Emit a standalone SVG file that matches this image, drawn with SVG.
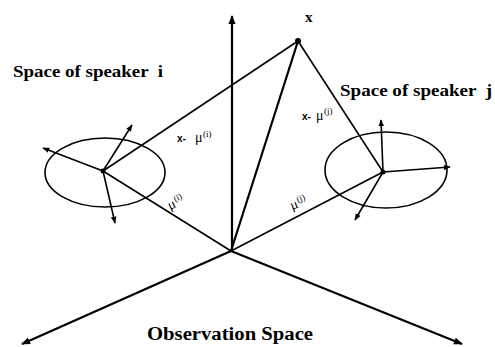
<svg xmlns="http://www.w3.org/2000/svg" width="495" height="347" viewBox="0 0 495 347">
<defs>
<marker id="ah" viewBox="0 0 10 10" refX="9" refY="5" markerWidth="7" markerHeight="7" markerUnits="userSpaceOnUse" orient="auto">
<path d="M0,1 L10,5 L0,9 Z" fill="#000"/>
</marker>
<marker id="ahb" viewBox="0 0 10 10" refX="9" refY="5" markerWidth="9" markerHeight="9" markerUnits="userSpaceOnUse" orient="auto">
<path d="M0,1 L10,5 L0,9 Z" fill="#000"/>
</marker>
</defs>
<style>
.ax{stroke:#000;stroke-width:2.2;fill:none}
.ln{stroke:#000;stroke-width:1.6;fill:none}
.el{stroke:#000;stroke-width:1.6;fill:none}
.t{font-family:'Liberation Serif','DejaVu Serif',serif;font-weight:bold;fill:#000}
.m{font-family:'Liberation Serif','DejaVu Serif',serif;font-weight:normal;fill:#000}
.s{font-family:'Liberation Sans','DejaVu Sans',sans-serif;font-weight:bold;fill:#000}
</style>
<rect width="495" height="347" fill="#fff"/>
<g id="connectors">
<line class="ax" x1="232" y1="251" x2="232" y2="16" marker-end="url(#ahb)"/>
<line class="ax" x1="231" y1="251" x2="22" y2="344" marker-end="url(#ahb)"/>
<line class="ax" x1="231" y1="251" x2="462" y2="344" marker-end="url(#ahb)"/>
<line class="ax" x1="231" y1="251" x2="298" y2="41"/>
<line class="ln" x1="231" y1="251" x2="103" y2="171"/>
<line class="ln" x1="231" y1="251" x2="383" y2="172"/>
<line class="ln" x1="103" y1="171" x2="298" y2="41"/>
<line class="ln" x1="383" y1="172" x2="298" y2="41"/>
<line class="ln" x1="103" y1="171" x2="43" y2="148" marker-end="url(#ah)"/>
<line class="ln" x1="103" y1="171" x2="132" y2="125" marker-end="url(#ah)"/>
<line class="ln" x1="103" y1="171" x2="115" y2="223" marker-end="url(#ah)"/>
<line class="ln" x1="383" y1="172" x2="381" y2="120" marker-end="url(#ah)"/>
<line class="ln" x1="383" y1="172" x2="450" y2="167" marker-end="url(#ah)"/>
<line class="ln" x1="383" y1="172" x2="355" y2="220" marker-end="url(#ah)"/>
</g>
<g id="space-i">
<ellipse class="el" cx="105" cy="172.5" rx="60" ry="34.5"/>
<circle cx="103" cy="171" r="2.5" fill="#000"/>
<text class="t" x="13" y="77" font-size="17" textLength="150" lengthAdjust="spacingAndGlyphs" xml:space="preserve">Space of speaker  i</text>
</g>
<g id="space-j">
<ellipse class="el" cx="386" cy="170" rx="61" ry="38"/>
<circle cx="383" cy="172" r="2.5" fill="#000"/>
<text class="t" x="340" y="96" font-size="17" textLength="152" lengthAdjust="spacingAndGlyphs" xml:space="preserve">Space of speaker  j</text>
</g>
<g id="point-x">
<circle cx="298" cy="41" r="3" fill="#000"/>
<text class="t" x="305" y="22" font-size="15">x</text>
</g>
<g id="labels">
<text class="s" x="177" y="142" font-size="10">x-</text>
<text class="m" x="195" y="142" font-size="14">μ</text>
<text class="m" x="203" y="137" font-size="9">(i)</text>
<text class="s" x="302" y="120" font-size="10">x-</text>
<text class="m" x="316" y="120" font-size="14">μ</text>
<text class="m" x="324" y="114" font-size="9">(j)</text>
<g transform="translate(170 210) rotate(-25)">
<text class="m" x="0" y="0" font-size="14">μ</text>
<text class="m" x="8" y="-5" font-size="9">(i)</text>
</g>
<g transform="translate(292 210) rotate(-20)">
<text class="m" x="0" y="0" font-size="14">μ</text>
<text class="m" x="8" y="-5" font-size="9">(j)</text>
</g>
</g>
<g id="observation-space">
<text class="t" x="147" y="340" font-size="18" textLength="166" lengthAdjust="spacingAndGlyphs">Observation Space</text>
</g>
</svg>
